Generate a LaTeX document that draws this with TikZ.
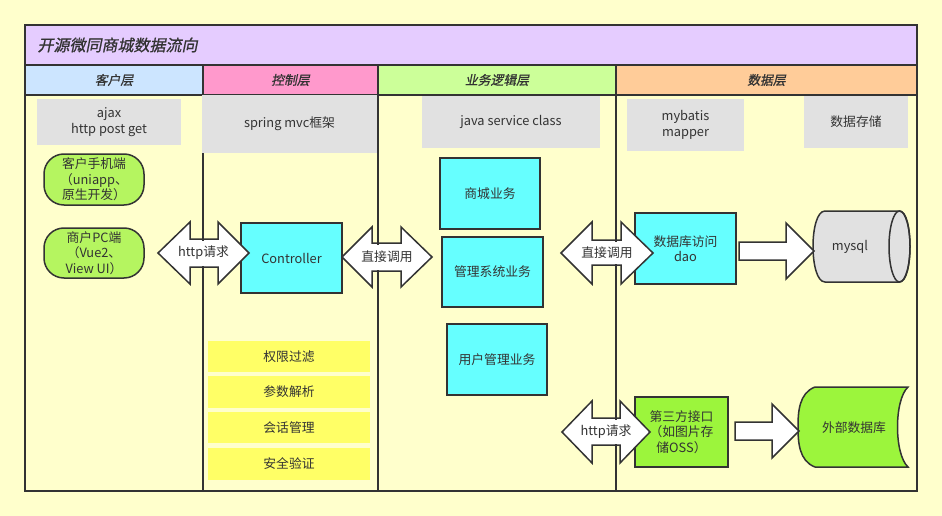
\documentclass[tikz,border=0pt]{standalone}
\usepackage{fontspec}
\setmainfont{Noto Sans CJK SC}
\newfontfamily\ttlfont[FakeSlant=0.2,FakeBold=0.8]{Noto Sans CJK SC}
\definecolor{bgc}{HTML}{FFFFCC}
\definecolor{titlec}{HTML}{E5CCFF}
\definecolor{hA}{HTML}{CCE5FF}
\definecolor{hB}{HTML}{FF99CC}
\definecolor{hC}{HTML}{CCFF99}
\definecolor{hD}{HTML}{FFCC99}
\definecolor{grayc}{HTML}{E1E1E1}
\definecolor{cyanc}{HTML}{66FFFF}
\definecolor{yelc}{HTML}{FFFF66}
\definecolor{clientc}{HTML}{B5F560}
\definecolor{limec}{HTML}{9CF53C}
\definecolor{linec}{HTML}{333333}
\definecolor{txtc}{HTML}{333333}
\newcommand\bodyfont{\fontsize{12.8pt}{15.6pt}\selectfont}
\begin{document}
\begin{tikzpicture}[x=1pt,y=-1pt,
  lane/.style={draw=linec,line width=1.7pt},
  graybox/.style={fill=grayc,draw=none,inner sep=0pt,text=txtc,font=\bodyfont,align=center},
  cyanbox/.style={fill=cyanc,draw=linec,line width=1.7pt,inner sep=0pt,text=txtc,font=\bodyfont,align=center},
  limebox/.style={fill=limec,draw=linec,line width=1.7pt,inner sep=0pt,text=txtc,font=\bodyfont,align=center},
  clientbox/.style={fill=clientc,draw=linec,line width=1.5pt,rounded corners=20pt,inner sep=0pt,text=txtc,font=\bodyfont,align=center},
  yelbox/.style={fill=yelc,draw=none,inner sep=0pt,text=txtc,font=\bodyfont,minimum width=162pt},
  bigarrow/.style={fill=white,draw=linec,line width=1.5pt,line join=miter},
  arrowlabel/.style={fill=white,inner xsep=0.5pt,inner ysep=0pt,text=txtc,font=\bodyfont},
  headtext/.style={text=txtc,font=\ttlfont\fontsize{12.8pt}{15pt}\selectfont},
  shapetext/.style={text=txtc,font=\bodyfont}]
% background
\fill[bgc] (0,0) rectangle (942,516);
\useasboundingbox (0,0) rectangle (942,516);
% title and header bands
\fill[titlec] (25,25) rectangle (917,65);
\fill[hA] (25,65) rectangle (203,95);
\fill[hB] (203,65) rectangle (378,95);
\fill[hC] (378,65) rectangle (616,95);
\fill[hD] (616,65) rectangle (917,95);
\node[anchor=west,text=txtc,font=\ttlfont\fontsize{16pt}{18pt}\selectfont] (title) at (34,45) {开源微同商城数据流向};
\node[headtext] (hclient) at (114,80) {客户层};
\node[headtext] (hctrl) at (290.5,80) {控制层};
\node[headtext] (hbiz) at (497,80) {业务逻辑层};
\node[headtext] (hdata) at (766.5,80) {数据层};
% boxes
\node[graybox,minimum width=144pt,minimum height=46pt] (ajax) at (109,122) {ajax\\http post get};
\node[graybox,minimum width=178pt,minimum height=53pt] (java) at (511,121.5) {java service class};
\node[graybox,minimum width=117pt,minimum height=52pt] (mybatis) at (685.5,125) {mybatis\\mapper};
\node[graybox,minimum width=104pt,minimum height=53pt] (store) at (856,121.5) {数据存储};
\node[clientbox,minimum width=100pt,minimum height=51pt] (phone) at (94,179.5) {客户手机端\\（uniapp、\\原生开发）};
\node[clientbox,minimum width=100pt,minimum height=50pt] (pc) at (94,253) {商户PC端\\（Vue2、\\View UI）};
\node[cyanbox,minimum width=101pt,minimum height=70pt] (ctrl) at (291.5,258) {Controller};
\node[cyanbox,minimum width=100pt,minimum height=71pt] (mall) at (490,193.5) {商城业务};
\node[cyanbox,minimum width=101pt,minimum height=70pt] (admin) at (492.5,272) {管理系统业务};
\node[cyanbox,minimum width=100pt,minimum height=71pt] (user) at (497,359.5) {用户管理业务};
\node[cyanbox,minimum width=101pt,minimum height=71pt] (dao) at (685.5,248.5) {数据库访问\\dao};
\node[limebox,minimum width=93pt,minimum height=70pt] (third) at (681.5,432) {第三方接口\\（如图片存\\储OSS）};
\node[yelbox,minimum height=31pt] (y1) at (289,356.5) {权限过滤};
\node[yelbox,minimum height=32pt] (y2) at (289,392) {参数解析};
\node[yelbox,minimum height=31pt] (y3) at (289,427.5) {会话管理};
\node[yelbox,minimum height=32pt] (y4) at (289,464) {安全验证};
% mysql cylinder
\filldraw[fill=grayc,draw=linec,line width=1.5pt] (899.5,211) -- (825,211) .. controls (809,211) and (809,282) .. (825,282) -- (899.5,282) .. controls (913.5,282) and (913.5,211) .. (899.5,211) -- cycle;
\draw[linec,line width=1.5pt] (899.5,246.5) ellipse [x radius=10.5pt, y radius=35.5pt];
\node[shapetext] (mysql) at (850,246.5) {mysql};
% external database (stored data)
\filldraw[fill=limec,draw=linec,line width=1.5pt] (815,387) -- (908,387) .. controls (894,400) and (894,454) .. (908,467) -- (815,467) .. controls (799,461) and (798,442) .. (798,427) .. controls (798,412) and (799,393) .. (815,387) -- cycle;
\node[shapetext] (extdb) at (854,428) {外部数据库};
% big arrows
\filldraw[bigarrow] (158,253) -- (190,222) -- (190,239) -- (218,239) -- (218,222) -- (249,253) -- (218,284) -- (218,267) -- (190,267) -- (190,284) -- cycle;
\filldraw[bigarrow] (342,257) -- (372,227) -- (372,243) -- (401,243) -- (401,227) -- (432,257) -- (401,287) -- (401,271) -- (372,271) -- (372,287) -- cycle;
\filldraw[bigarrow] (561,253) -- (592,222) -- (592,240) -- (621,240) -- (621,222) -- (653,253) -- (621,284) -- (621,265) -- (592,265) -- (592,284) -- cycle;
\filldraw[bigarrow] (562,432) -- (592,401) -- (592,418) -- (620,418) -- (620,401) -- (650,432) -- (620,463) -- (620,445) -- (592,445) -- (592,463) -- cycle;
\filldraw[bigarrow] (739,242) -- (786,242) -- (786,223) -- (814,251) -- (786,279) -- (786,260) -- (739,260) -- cycle;
\filldraw[bigarrow] (735,422) -- (772,422) -- (772,404) -- (799,431) -- (772,458) -- (772,440) -- (735,440) -- cycle;
% lanes
\draw[lane] (25,65) -- (917,65);
\draw[lane] (25,95) -- (917,95);
\draw[lane] (203,65) -- (203,491);
\draw[lane] (378,65) -- (378,491);
\draw[lane] (616,65) -- (616,491);
\draw[lane] (25,25) rectangle (917,491);
% spring mvc box over the lane line
\node[graybox,minimum width=175pt,minimum height=58pt] (spring) at (289.5,124) {spring mvc框架};
% arrow labels
\node[arrowlabel,minimum height=25pt] (http1) at (203.5,253) {http请求};
\node[arrowlabel,minimum height=25pt] (call1) at (387,257) {直接调用};
\node[arrowlabel,minimum height=22pt] (call2) at (607,252.5) {直接调用};
\node[arrowlabel,minimum height=24pt] (http2) at (606,431.5) {http请求};
\end{tikzpicture}
\end{document}
